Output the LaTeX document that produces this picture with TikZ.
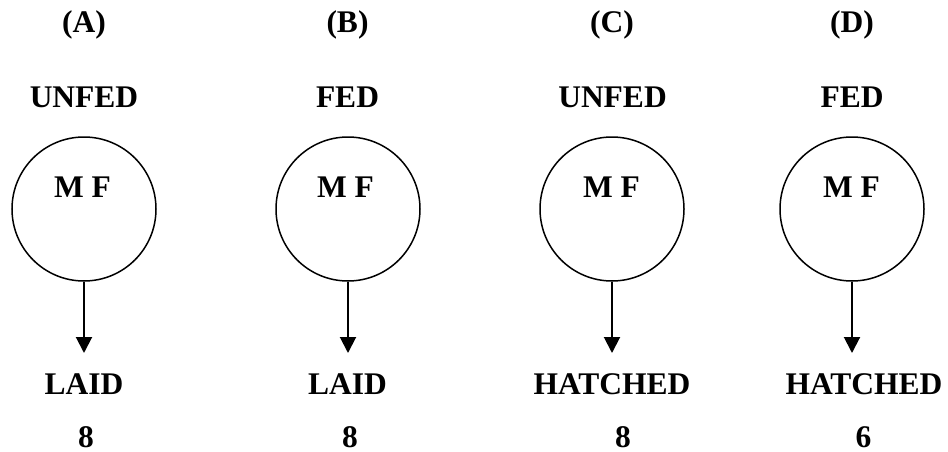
\documentclass[tikz,border=0pt]{standalone}
\usepackage{fontspec}
\setmainfont{Liberation Serif}
\usetikzlibrary{arrows.meta}
\begin{document}
\begin{tikzpicture}[x=1pt,y=-1pt,
  lbl/.style={anchor=base,inner sep=0pt,font=\bfseries\fontsize{31.5}{36}\selectfont},
  ring/.style={circle,draw,line width=1.5pt,minimum size=144pt,inner sep=0pt},
  arr/.style={line width=2pt,-{Triangle[width=16pt,length=16pt]}}]
\useasboundingbox (0,0) rectangle (948,452);
% column A
\node[lbl] (ta) at (84,33) {(A)};
\node[lbl] (ua) at (84,107) {UNFED};
\node[ring] (ca) at (84,209) {};
\node[lbl] (ma) at (82.5,197) {M F};
\coordinate (ea) at (84,353);
\node[lbl] (la) at (84,394) {LAID};
\node[lbl] (na) at (86,447) {8};
\draw[arr] (ca.south) -- (ea);
% column B
\node[lbl] (tb) at (347.5,33) {(B)};
\node[lbl] (ub) at (347.5,107) {FED};
\node[ring] (cb) at (348,209) {};
\node[lbl] (mb) at (345.5,197) {M F};
\coordinate (eb) at (348,353);
\node[lbl] (lb) at (347.5,394) {LAID};
\node[lbl] (nb) at (350,447) {8};
\draw[arr] (cb.south) -- (eb);
% column C
\node[lbl] (tc) at (612,33) {(C)};
\node[lbl] (uc) at (612.5,107) {UNFED};
\node[ring] (cc) at (612,209) {};
\node[lbl] (mc) at (611.5,197) {M F};
\coordinate (ec) at (612,353);
\node[lbl] (lc) at (612,394) {HATCHED};
\node[lbl] (nc) at (623,447) {8};
\draw[arr] (cc.south) -- (ec);
% column D
\node[lbl] (td) at (852,33) {(D)};
\node[lbl] (ud) at (852,107) {FED};
\node[ring] (cd) at (852,209) {};
\node[lbl] (md) at (851.5,197) {M F};
\coordinate (ed) at (852,353);
\node[lbl] (ld) at (864,394) {HATCHED};
\node[lbl] (nd) at (863.5,447) {6};
\draw[arr] (cd.south) -- (ed);
\end{tikzpicture}
\end{document}
